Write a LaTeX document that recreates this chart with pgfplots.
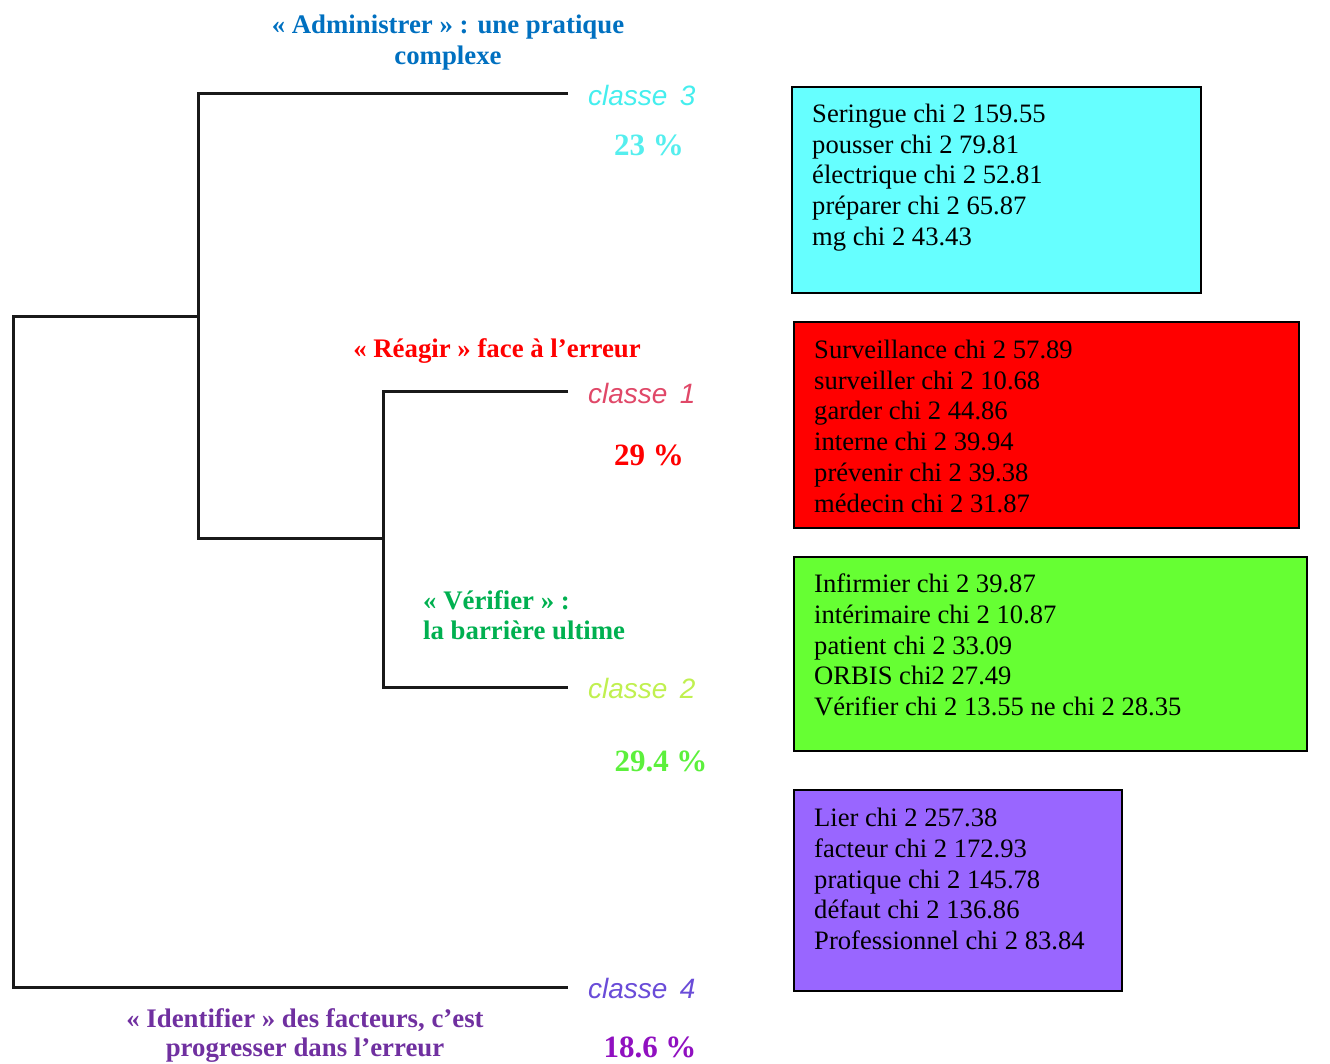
\documentclass[border=0pt]{standalone}
\usepackage{pgfplots}
\pgfplotsset{compat=1.18}
\usepackage{fontspec}
\setmainfont{Liberation Serif}
\newfontfamily\arialfont{Liberation Sans}

\definecolor{boxcyan}{HTML}{66FFFF}
\definecolor{boxred}{HTML}{FF0000}
\definecolor{boxgreen}{HTML}{66FF33}
\definecolor{boxpurple}{HTML}{9966FF}
\definecolor{headblue}{HTML}{0070C0}
\definecolor{headred}{HTML}{FF0000}
\definecolor{headgreen}{HTML}{00B050}
\definecolor{headpurple}{HTML}{7030A0}
\definecolor{pctcyan}{HTML}{55EEEE}
\definecolor{pctgreen}{HTML}{5CF03C}
\definecolor{pctpurple}{HTML}{9010C0}
\definecolor{clcyan}{HTML}{45EEEE}
\definecolor{clred}{HTML}{E04868}
\definecolor{clgreen}{HTML}{C0F050}
\definecolor{clpurple}{HTML}{6A4CD8}

\newcommand{\boxfont}{\fontsize{26.6}{31}\selectfont}
\newcommand{\headfont}{\fontsize{26.8}{30}\selectfont\bfseries}
\newcommand{\pctfont}{\fontsize{31}{34}\selectfont\bfseries}
\newcommand{\clfont}{\fontsize{28}{30}\selectfont\arialfont\itshape}

\begin{document}
\begin{tikzpicture}
\begin{axis}[width=1330pt, height=1063pt, scale only axis, hide axis,
  xmin=0, xmax=1330, ymin=0, ymax=1063, y dir=reverse, clip=false]

% dendrogram
\addplot[black!90, line width=3pt] coordinates {(568,93) (198,93) (198,538) (383,538)};
\addplot[black!90, line width=3pt] coordinates {(568,391) (383,391) (383,687) (568,687)};
\addplot[black!90, line width=3pt] coordinates {(198,316) (13,316) (13,987) (568,987)};

% boxes
\addplot[fill=boxcyan, draw=black, line width=1.2pt] coordinates {(792,87) (1201,87) (1201,293) (792,293)} --cycle;
\addplot[fill=boxred, draw=black, line width=1.2pt] coordinates {(794,322) (1299,322) (1299,528) (794,528)} --cycle;
\addplot[fill=boxgreen, draw=black, line width=1.2pt] coordinates {(794,557) (1307,557) (1307,751) (794,751)} --cycle;
\addplot[fill=boxpurple, draw=black, line width=1.2pt] coordinates {(794,790) (1122,790) (1122,991) (794,991)} --cycle;

% box text
\node[anchor=base west, inner sep=0pt, font=\boxfont] at (812,122) {Seringue chi 2 159.55};
\node[anchor=base west, inner sep=0pt, font=\boxfont] at (812,153) {pousser chi 2 79.81};
\node[anchor=base west, inner sep=0pt, font=\boxfont] at (812,183) {électrique chi 2 52.81};
\node[anchor=base west, inner sep=0pt, font=\boxfont] at (812,214) {préparer chi 2 65.87};
\node[anchor=base west, inner sep=0pt, font=\boxfont] at (812,245) {mg chi 2 43.43};

\node[anchor=base west, inner sep=0pt, font=\boxfont] at (814,358) {Surveillance chi 2 57.89};
\node[anchor=base west, inner sep=0pt, font=\boxfont] at (814,389) {surveiller chi 2 10.68};
\node[anchor=base west, inner sep=0pt, font=\boxfont] at (814,419) {garder chi 2 44.86};
\node[anchor=base west, inner sep=0pt, font=\boxfont] at (814,450) {interne chi 2 39.94};
\node[anchor=base west, inner sep=0pt, font=\boxfont] at (814,481) {prévenir chi 2 39.38};
\node[anchor=base west, inner sep=0pt, font=\boxfont] at (814,512) {médecin chi 2 31.87};

\node[anchor=base west, inner sep=0pt, font=\boxfont] at (814,592) {Infirmier chi 2 39.87};
\node[anchor=base west, inner sep=0pt, font=\boxfont] at (814,623) {intérimaire chi 2 10.87};
\node[anchor=base west, inner sep=0pt, font=\boxfont] at (814,654) {patient chi 2 33.09};
\node[anchor=base west, inner sep=0pt, font=\boxfont] at (814,684) {ORBIS chi2 27.49};
\node[anchor=base west, inner sep=0pt, font=\boxfont] at (814,715) {Vérifier chi 2 13.55 ne chi 2 28.35};

\node[anchor=base west, inner sep=0pt, font=\boxfont] at (814,826) {Lier chi 2 257.38};
\node[anchor=base west, inner sep=0pt, font=\boxfont] at (814,857) {facteur chi 2 172.93};
\node[anchor=base west, inner sep=0pt, font=\boxfont] at (814,888) {pratique chi 2 145.78};
\node[anchor=base west, inner sep=0pt, font=\boxfont] at (814,918) {défaut chi 2 136.86};
\node[anchor=base west, inner sep=0pt, font=\boxfont] at (814,949) {Professionnel chi 2 83.84};

% class labels
\node[anchor=base west, inner sep=0pt, font=\clfont, text=clcyan] at (588,105) {classe\, 3};
\node[anchor=base west, inner sep=0pt, font=\clfont, text=clred] at (588,403) {classe\, 1};
\node[anchor=base west, inner sep=0pt, font=\clfont, text=clgreen] at (588,698) {classe\, 2};
\node[anchor=base west, inner sep=0pt, font=\clfont, text=clpurple] at (588,998) {classe\, 4};

% percentages
\node[anchor=base, inner sep=0pt, font=\pctfont, text=pctcyan] at (649,155) {23 \%};
\node[anchor=base, inner sep=0pt, font=\pctfont, text=headred] at (649,465) {29 \%};
\node[anchor=base, inner sep=0pt, font=\pctfont, text=pctgreen] at (661,771) {29.4 \%};
\node[anchor=base, inner sep=0pt, font=\pctfont, text=pctpurple] at (650,1057) {18.6 \%};

% headings
\node[anchor=base, inner sep=0pt, font=\headfont, text=headblue] at (448,33) {« Administrer » : une pratique};
\node[anchor=base, inner sep=0pt, font=\headfont, text=headblue] at (448,64) {complexe};
\node[anchor=base, inner sep=0pt, font=\headfont, text=headred] at (497,357) {« Réagir » face à l’erreur};
\node[anchor=base west, inner sep=0pt, font=\headfont, text=headgreen] at (423,609) {« Vérifier » :};
\node[anchor=base west, inner sep=0pt, font=\headfont, text=headgreen] at (423,639) {la barrière ultime};
\node[anchor=base, inner sep=0pt, font=\headfont, text=headpurple] at (305,1027) {« Identifier » des facteurs, c’est};
\node[anchor=base, inner sep=0pt, font=\headfont, text=headpurple] at (305,1056) {progresser dans l’erreur};
\end{axis}
\pgfresetboundingbox
\path[use as bounding box] (0,0) rectangle (1330pt,1063pt);
\end{tikzpicture}
\end{document}
